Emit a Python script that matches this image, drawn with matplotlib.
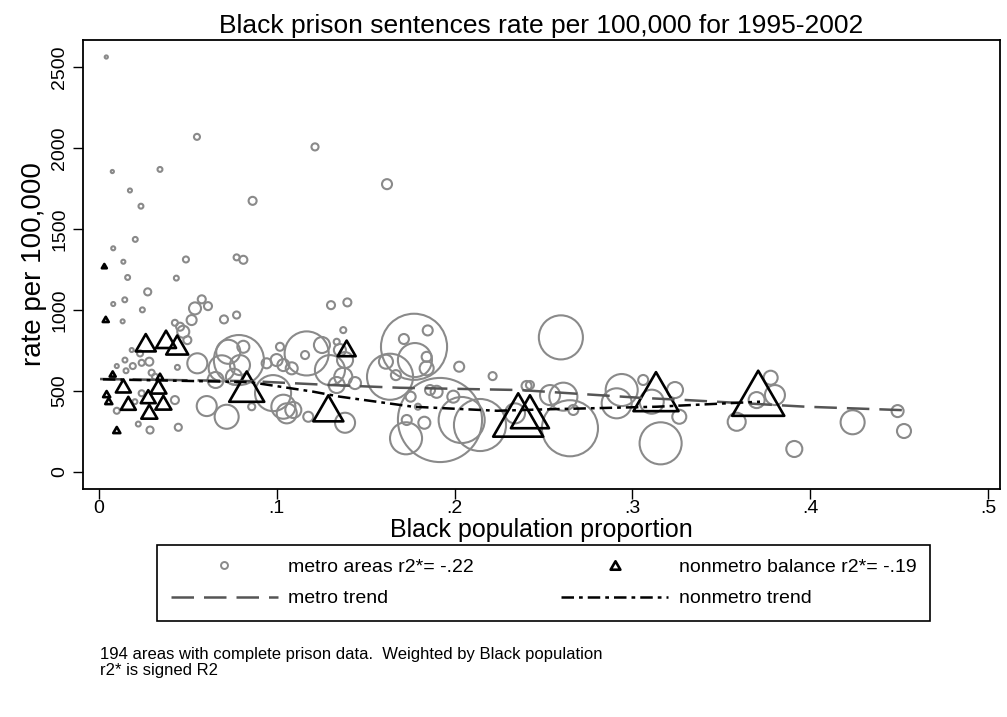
import numpy as np
import matplotlib
matplotlib.use("Agg")
from matplotlib import pyplot as plt
from matplotlib.path import Path
from matplotlib.lines import Line2D

plt.rcParams['font.family'] = ['Liberation Sans', 'DejaVu Sans']

# metro areas: Black population proportion, rate per 100,000, Black population (weight)
metro_x = [.0041, .0551, .1215, .0075, .0343, .0174, .0236, .0864, .0204, .0080,
           .1620, .0137, .0161, .0489, .0774, .0812, .0435, .0274, .0080, .0145,
           .0244, .0133, .0540, .0578, .0613, .0703, .0774, .1305, .1397, .1374,
           .1337, .1772, .1715, .1849, .1777, .1637, .1614, .1670, .1843, .1843,
           .2026, .2214, .1753, .1862, .1899, .1993, .1918, .2040, .2143, .1731,
           .1830, .1727, .1384, .2405, .2424, .2598, .2537, .2612, .2668, .2649,
           .2340, .2940, .3061, .2912, .3109, .3159, .3240, .3264, .3587, .3778,
           .3802, .3699, .3911, .4239, .4492, .4528, .0100, .0146, .0190, .0152,
           .0240, .0283, .0231, .0296, .0315, .0240, .0202, .0100, .0427, .0221,
           .0287, .0446, .0184, .0441, .0427, .0456, .0474, .0497, .0521, .0553,
           .0690, .0787, .1168, .1159, .1299, .1018, .0999, .0943, .1037, .1084,
           .0979, .1037, .1056, .1093, .1177, .0859, .0718, .0606, .0656, .0727,
           .0812, .0759, .0793, .1384, .1355, .1374, .1337, .1254, .1440, .1794]
metro_y = [2562, 2069, 2007, 1855, 1868, 1738, 1641, 1674, 1436, 1381,
           1777, 1298, 1201, 1312, 1325, 1310, 1197, 1112, 1037, 1063,
           1001, 930, 1010, 1066, 1024, 942, 969, 1030, 1047, 876,
           804, 773, 821, 874, 691, 588, 681, 598, 711, 640,
           650, 592, 465, 506, 495, 465, 321, 321, 290, 321,
           304, 208, 304, 531, 537, 831, 475, 465, 383, 270,
           362, 506, 568, 424, 434, 177, 506, 341, 310, 582,
           475, 444, 142, 307, 376, 253, 654, 691, 654, 625,
           674, 681, 732, 613, 588, 486, 434, 378, 444, 296,
           259, 276, 753, 646, 921, 897, 866, 814, 938, 671,
           640, 691, 732, 722, 629, 773, 691, 671, 660, 640,
           487, 403, 362, 383, 341, 403, 341, 407, 568, 742,
           773, 588, 660, 691, 753, 588, 537, 784, 549, 403]
metro_pop = [5, 18, 25, 5, 12, 8, 12, 32, 12, 8,
             50, 8, 12, 18, 18, 32, 12, 25, 8, 12,
             12, 8, 72, 32, 32, 32, 25, 32, 32, 18,
             18, 2178, 50, 50, 578, 1058, 98, 50, 50, 98,
             50, 32, 50, 50, 72, 72, 3528, 1058, 1352, 50,
             72, 512, 200, 50, 32, 968, 200, 392, 50, 1568,
             200, 512, 50, 450, 288, 882, 128, 98, 162, 98,
             200, 128, 128, 288, 72, 98, 8, 12, 18, 12,
             18, 32, 18, 18, 18, 18, 12, 18, 32, 12,
             25, 25, 8, 12, 18, 32, 72, 32, 50, 200,
             338, 1250, 968, 32, 450, 32, 72, 50, 72, 72,
             648, 288, 200, 128, 50, 25, 288, 200, 128, 288,
             72, 128, 200, 128, 72, 162, 128, 128, 72, 18]

# nonmetro balance
nonmetro_x = [.0030, .0038, .0263, .0377, .0440, .0077, .0137, .0043, .0055, .0165,
              .0277, .0334, .0343, .0362, .0283, .0100, .0831, .1290, .1393, .2358,
              .2424, .3133, .3708]
nonmetro_y = [1271, 942, 798, 819, 784, 605, 531, 481, 438, 424,
              465, 527, 588, 428, 372, 259, 527, 393, 763, 352,
              372, 496, 486]
nonmetro_pop = [12, 18, 200, 200, 242, 18, 112, 25, 25, 112,
                112, 128, 25, 128, 128, 25, 612, 450, 162, 1250,
                722, 1012, 1352]

# trend lines
metro_trend_x = [.0006, .0849, .1299, .1693, .2368, .3043, .3307, .3976, .4516]
metro_trend_y = [574, 561, 537, 520, 506, 458, 444, 403, 382]
nonmetro_trend_x = [.0022, .0849, .1204, .1355, .1766, .2239, .2520, .3138, .3718]
nonmetro_trend_y = [572, 555, 496, 465, 403, 378, 387, 403, 434]

gray = '#8a8a8a'
tri = Path([(0, 0.866), (-1, -0.866), (1, -0.866), (0, 0.866)],
           [Path.MOVETO, Path.LINETO, Path.LINETO, Path.CLOSEPOLY])

fig = plt.figure(figsize=(10.07, 7.17), dpi=100)
ax = fig.add_axes([83/1007, 1-489/717, (1000-83)/1007, (489-40)/717])

ax.scatter(metro_x, metro_y, s=np.array(metro_pop)*1.04, marker='o',
           facecolors='none', edgecolors=gray, linewidths=1.5, zorder=2)
ax.scatter(nonmetro_x, nonmetro_y, s=np.array(nonmetro_pop)*1.04, marker=tri,
           facecolors='none', edgecolors='black', linewidths=1.9, zorder=3)
ax.plot(metro_trend_x, metro_trend_y, color='#555555', lw=1.8,
        dashes=(9, 4), zorder=4)
ax.plot(nonmetro_trend_x, nonmetro_trend_y, color='black', lw=1.8,
        dashes=(5, 2, 1.5, 2), zorder=4)

ax.set_xlim(-0.009, 0.5068)
ax.set_ylim(-105, 2667)
ax.set_xticks([0, .1, .2, .3, .4, .5])
ax.set_xticklabels(['0', '.1', '.2', '.3', '.4', '.5'])
ax.set_yticks([0, 500, 1000, 1500, 2000, 2500])
ax.set_yticklabels(['0', '500', '1000', '1500', '2000', '2500'], rotation=90, va='center')
ax.tick_params(direction='out', length=7, width=1, labelsize=14)
ax.tick_params(axis='x', pad=1)
for sp in ax.spines.values():
    sp.set_linewidth(1.3)

ax.set_title('Black prison sentences rate per 100,000 for 1995-2002', fontsize=19, pad=5)
ax.set_xlabel('Black population proportion', fontsize=18, labelpad=1)
ax.set_ylabel('rate per 100,000', fontsize=20, labelpad=3)

handles = [Line2D([], [], ls='none', marker='o', ms=5, mfc='none', mec=gray, mew=1.4),
           Line2D([], [], color='#555555', lw=1.8, dashes=(9, 4)),
           Line2D([], [], ls='none', marker=tri, ms=7, mfc='none', mec='black', mew=1.9),
           Line2D([], [], color='black', lw=1.8, dashes=(5, 2, 1.5, 2))]
labels = ['metro areas r2*= -.22', 'metro trend', 'nonmetro balance r2*= -.19', 'nonmetro trend']
leg = fig.legend(handles, labels, ncol=2, loc='upper left',
                 bbox_to_anchor=(157/1007, 1-620/717, (930-157)/1007, 75/717),
                 mode='expand', fancybox=False, edgecolor='black', framealpha=1,
                 fontsize=14, handlelength=5.5, handletextpad=0.55, borderpad=0.7,
                 labelspacing=0.7, borderaxespad=0)
leg.get_frame().set_linewidth(1.2)

fig.text(100/1007, 1-654/717, '194 areas with complete prison data.  Weighted by Black population',
         fontsize=12, va='center')
fig.text(100/1007, 1-671/717, 'r2* is signed R2', fontsize=12, va='center')

fig.savefig('out.png', dpi=100)
